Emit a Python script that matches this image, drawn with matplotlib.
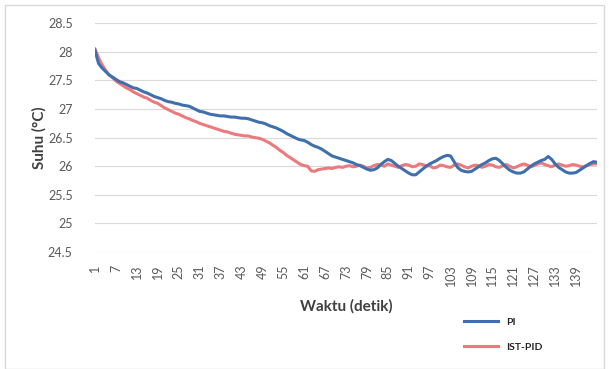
import matplotlib.pyplot as plt
from matplotlib.patches import Rectangle

# Temperature readings (deg C) per second
pi_temp = [
    28.03, 27.80, 27.72, 27.66, 27.60, 27.56, 27.52, 27.48, 27.46, 27.43,
    27.40, 27.37, 27.36, 27.33, 27.30, 27.28, 27.25, 27.22, 27.20, 27.18,
    27.15, 27.13, 27.12, 27.10, 27.09, 27.07, 27.06, 27.05, 27.02, 26.99,
    26.96, 26.95, 26.93, 26.91, 26.90, 26.89, 26.88, 26.88, 26.87, 26.86,
    26.86, 26.85, 26.84, 26.84, 26.83, 26.81, 26.79, 26.77, 26.76, 26.74,
    26.71, 26.69, 26.67, 26.64, 26.61, 26.57, 26.54, 26.51, 26.48, 26.46,
    26.45, 26.42, 26.38, 26.35, 26.33, 26.30, 26.26, 26.22, 26.18, 26.16,
    26.14, 26.12, 26.10, 26.08, 26.06, 26.03, 26.01, 25.98, 25.95, 25.93,
    25.94, 25.97, 26.03, 26.08, 26.12, 26.10, 26.05, 26.00, 25.96, 25.92,
    25.88, 25.85, 25.85, 25.90, 25.95, 26.00, 26.04, 26.07, 26.10, 26.14,
    26.17, 26.19, 26.18, 26.08, 25.98, 25.93, 25.91, 25.90, 25.91, 25.95,
    25.99, 26.03, 26.06, 26.10, 26.13, 26.14, 26.10, 26.04, 25.98, 25.93,
    25.90, 25.88, 25.88, 25.90, 25.95, 26.00, 26.04, 26.07, 26.10, 26.12,
    26.17, 26.12, 26.04, 25.98, 25.94, 25.90, 25.88, 25.88, 25.89, 25.93,
    25.97, 26.01, 26.05, 26.08, 26.07,
]

ist_pid_temp = [
    28.05, 27.90, 27.78, 27.68, 27.60, 27.55, 27.49, 27.45, 27.41, 27.37,
    27.34, 27.30, 27.27, 27.24, 27.21, 27.19, 27.15, 27.12, 27.10, 27.06,
    27.02, 26.99, 26.96, 26.93, 26.91, 26.88, 26.85, 26.83, 26.80, 26.78,
    26.75, 26.73, 26.71, 26.69, 26.67, 26.65, 26.63, 26.61, 26.60, 26.58,
    26.56, 26.55, 26.54, 26.53, 26.53, 26.51, 26.50, 26.49, 26.47, 26.44,
    26.41, 26.37, 26.33, 26.28, 26.24, 26.19, 26.15, 26.11, 26.07, 26.03,
    26.01, 26.00, 25.92, 25.91, 25.94, 25.95, 25.96, 25.97, 25.96, 25.98,
    25.99, 25.98, 26.00, 26.01, 25.99, 26.00, 26.02, 26.00, 25.97, 25.98,
    26.01, 26.03, 26.02, 26.00, 26.04, 26.02, 26.00, 25.98, 26.01, 26.03,
    26.02, 25.99, 26.00, 26.04, 26.03, 26.00, 26.01, 25.97, 25.98, 26.02,
    26.01, 25.99, 25.98, 26.02, 26.04, 26.02, 25.99, 25.97, 26.00, 26.02,
    26.01, 25.98, 26.00, 26.03, 26.02, 25.99, 25.98, 26.01, 26.03, 26.00,
    25.97, 25.99, 26.02, 26.04, 26.02, 25.99, 26.01, 26.04, 26.06, 26.03,
    26.01, 25.99, 26.02, 26.04, 26.02, 26.00, 26.01, 26.03, 26.02, 26.00,
    25.99, 26.01, 26.03, 26.04, 26.04,
]

seconds = list(range(1, len(pi_temp) + 1))
x_ticks = seconds[:139:6]
y_ticks = [24.5, 25, 25.5, 26, 26.5, 27, 27.5, 28, 28.5]

plt.rcParams['font.family'] = ['Lato', 'DejaVu Sans']

fig = plt.figure(figsize=(6.09, 3.69), dpi=100)
ax = fig.add_axes([95 / 609, 1 - 252 / 369, 502 / 609, (252 - 23.3) / 369])

# chart border
fig.patches.append(Rectangle((5 / 609, 0), 599 / 609, 364 / 369, transform=fig.transFigure,
                             fill=False, edgecolor='#d9d9d9', linewidth=1))

line_red, = ax.plot(seconds, ist_pid_temp, color='#ec7a7d', linewidth=2.2, label='IST-PID')
line_blue, = ax.plot(seconds, pi_temp, color='#3f6fad', linewidth=2.2, label='PI')

ax.set_xlim(1, len(seconds))
ax.set_ylim(24.5, 28.5)
ax.set_yticks(y_ticks)
ax.set_yticklabels([f'{v:g}' for v in y_ticks])
ax.set_xticks(x_ticks)
ax.set_xticklabels([str(t) for t in x_ticks], rotation=90)
ax.tick_params(axis='both', length=0, colors='#595959', labelsize=9)
ax.tick_params(axis='y', pad=16)
ax.tick_params(axis='x', pad=9)
ax.grid(axis='y', color='#d9d9d9', linewidth=0.8)
ax.set_axisbelow(True)
for s in ax.spines.values():
    s.set_visible(False)

ax.set_xlabel('Waktu (detik)', fontsize=11, fontweight='bold', color='#404040', labelpad=9)
ax.set_ylabel('Suhu (°C)', fontsize=11, fontweight='bold', color='#404040', labelpad=1)

leg = fig.legend(handles=[line_blue, line_red], loc='upper left',
                 bbox_to_anchor=(455 / 609, 1 - 308 / 369), frameon=False,
                 fontsize=7.5, handlelength=3.2, labelspacing=1.5)
for t in leg.get_texts():
    t.set_fontweight('bold')
    t.set_color('#262626')

fig.savefig('out.png', dpi=100)
